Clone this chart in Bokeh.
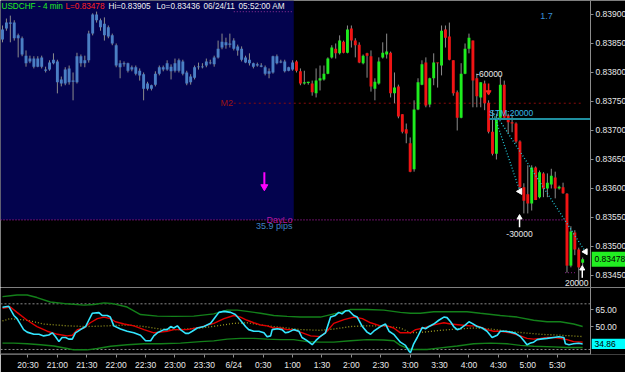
import numpy as np
from datetime import datetime, timedelta
from bokeh.plotting import figure
from bokeh.layouts import column
from bokeh.models import Range1d, FixedTicker, PrintfTickFormatter, Label, ColumnDataSource
from bokeh.embed import file_html
from bokeh.resources import INLINE
from bokeh.core.properties import value

FONT = "Liberation Sans"
FS = "8.5px"

# ---------------- data ----------------
symbol = "USDCHF - 4 min"
bar_minutes = 4
first_bar = datetime(2011, 6, 23, 20, 4)
session_end = datetime(2011, 6, 24, 1, 0)
stamp_date = "06/24/11"
stamp_time = "05:52:00 AM"

opens = [
    0.83857, 0.83876, 0.83886, 0.83886, 0.83859, 0.83859, 0.83829, 0.83819, 0.83824, 0.83810,
    0.83826, 0.83805, 0.83805, 0.83816, 0.83819, 0.83788, 0.83781, 0.83807, 0.83786, 0.83783,
    0.83828, 0.83816, 0.83821, 0.83867, 0.83900, 0.83890, 0.83884, 0.83878, 0.83864, 0.83847,
    0.83816, 0.83816, 0.83816, 0.83809, 0.83809, 0.83803, 0.83797, 0.83781, 0.83772, 0.83779,
    0.83798, 0.83805, 0.83805, 0.83810, 0.83803, 0.83803, 0.83819, 0.83800, 0.83783, 0.83791,
    0.83809, 0.83810, 0.83812, 0.83817, 0.83814, 0.83826, 0.83843, 0.83852, 0.83850, 0.83855,
    0.83845, 0.83841, 0.83826, 0.83822, 0.83816, 0.83814, 0.83812, 0.83809, 0.83802, 0.83800,
    0.83828, 0.83819, 0.83819, 0.83803, 0.83805,
    0.83819, 0.83802, 0.83781, 0.83782, 0.83781, 0.83764, 0.83786, 0.83788, 0.83798, 0.83826,
    0.83841, 0.83833, 0.83853, 0.83834, 0.83876, 0.83855, 0.83848, 0.83816, 0.83833, 0.83828,
    0.83772, 0.83781, 0.83826, 0.83831, 0.83834, 0.83764, 0.83776, 0.83728, 0.83702, 0.83678,
    0.83633, 0.83736, 0.83779, 0.83817, 0.83745, 0.83790, 0.83817, 0.83812, 0.83874, 0.83862,
    0.83821, 0.83766, 0.83722, 0.83798, 0.83841, 0.83855, 0.83790, 0.83757, 0.83781, 0.83748,
    0.83698, 0.83660, 0.83722, 0.83779, 0.83726, 0.83714, 0.83712, 0.83681, 0.83602, 0.83590,
    0.83574, 0.83636, 0.83585, 0.83626, 0.83600, 0.83607, 0.83619, 0.83600, 0.83602, 0.83591,
    0.83467, 0.83524, 0.83495, 0.83472]
highs = [
    0.83881, 0.83893, 0.83898, 0.83890, 0.83867, 0.83862, 0.83838, 0.83829, 0.83828, 0.83828,
    0.83829, 0.83810, 0.83821, 0.83833, 0.83822, 0.83793, 0.83809, 0.83812, 0.83800, 0.83834,
    0.83831, 0.83829, 0.83872, 0.83902, 0.83905, 0.83893, 0.83895, 0.83881, 0.83867, 0.83850,
    0.83821, 0.83819, 0.83817, 0.83812, 0.83812, 0.83807, 0.83800, 0.83784, 0.83779, 0.83802,
    0.83812, 0.83812, 0.83821, 0.83814, 0.83824, 0.83824, 0.83822, 0.83803, 0.83797, 0.83812,
    0.83817, 0.83816, 0.83824, 0.83822, 0.83829, 0.83855, 0.83867, 0.83860, 0.83867, 0.83859,
    0.83848, 0.83845, 0.83829, 0.83833, 0.83817, 0.83817, 0.83816, 0.83812, 0.83807, 0.83829,
    0.83831, 0.83822, 0.83822, 0.83810, 0.83821,
    0.83821, 0.83807, 0.83803, 0.83784, 0.83786, 0.83807, 0.83812, 0.83812, 0.83826, 0.83847,
    0.83850, 0.83864, 0.83855, 0.83881, 0.83881, 0.83859, 0.83852, 0.83831, 0.83834, 0.83838,
    0.83790, 0.83826, 0.83852, 0.83867, 0.83836, 0.83800, 0.83779, 0.83728, 0.83712, 0.83688,
    0.83752, 0.83790, 0.83821, 0.83826, 0.83791, 0.83833, 0.83817, 0.83881, 0.83881, 0.83886,
    0.83821, 0.83769, 0.83816, 0.83850, 0.83867, 0.83855, 0.83798, 0.83783, 0.83786, 0.83752,
    0.83735, 0.83729, 0.83795, 0.83786, 0.83729, 0.83726, 0.83714, 0.83683, 0.83609, 0.83640,
    0.83640, 0.83638, 0.83631, 0.83628, 0.83626, 0.83634, 0.83629, 0.83605, 0.83610, 0.83592,
    0.83535, 0.83528, 0.83498, 0.83481]
lows = [
    0.83852, 0.83872, 0.83852, 0.83855, 0.83826, 0.83828, 0.83810, 0.83816, 0.83807, 0.83809,
    0.83807, 0.83800, 0.83803, 0.83814, 0.83764, 0.83776, 0.83778, 0.83779, 0.83752, 0.83781,
    0.83810, 0.83809, 0.83817, 0.83864, 0.83886, 0.83872, 0.83855, 0.83859, 0.83847, 0.83809,
    0.83790, 0.83810, 0.83800, 0.83802, 0.83795, 0.83786, 0.83752, 0.83769, 0.83769, 0.83776,
    0.83795, 0.83802, 0.83803, 0.83788, 0.83800, 0.83800, 0.83795, 0.83778, 0.83779, 0.83788,
    0.83805, 0.83807, 0.83809, 0.83814, 0.83810, 0.83824, 0.83840, 0.83841, 0.83843, 0.83838,
    0.83829, 0.83819, 0.83816, 0.83812, 0.83807, 0.83810, 0.83809, 0.83795, 0.83790, 0.83798,
    0.83814, 0.83816, 0.83800, 0.83802, 0.83803,
    0.83800, 0.83778, 0.83779, 0.83779, 0.83760, 0.83757, 0.83769, 0.83786, 0.83797, 0.83824,
    0.83824, 0.83831, 0.83833, 0.83833, 0.83843, 0.83826, 0.83816, 0.83814, 0.83791, 0.83767,
    0.83752, 0.83779, 0.83824, 0.83824, 0.83757, 0.83747, 0.83721, 0.83695, 0.83678, 0.83628,
    0.83629, 0.83735, 0.83778, 0.83740, 0.83740, 0.83778, 0.83774, 0.83795, 0.83843, 0.83821,
    0.83760, 0.83700, 0.83721, 0.83797, 0.83833, 0.83740, 0.83740, 0.83740, 0.83735, 0.83695,
    0.83657, 0.83650, 0.83721, 0.83721, 0.83695, 0.83697, 0.83678, 0.83593, 0.83557, 0.83557,
    0.83562, 0.83580, 0.83583, 0.83585, 0.83585, 0.83600, 0.83583, 0.83598, 0.83591, 0.83455,
    0.83464, 0.83485, 0.83436, 0.83464]
closes = [
    0.83874, 0.83886, 0.83884, 0.83859, 0.83864, 0.83831, 0.83816, 0.83824, 0.83810, 0.83824,
    0.83810, 0.83803, 0.83817, 0.83822, 0.83783, 0.83781, 0.83805, 0.83783, 0.83784, 0.83828,
    0.83816, 0.83821, 0.83867, 0.83900, 0.83890, 0.83878, 0.83864, 0.83862, 0.83850, 0.83812,
    0.83809, 0.83814, 0.83803, 0.83805, 0.83798, 0.83795, 0.83772, 0.83772, 0.83778, 0.83798,
    0.83809, 0.83809, 0.83816, 0.83802, 0.83816, 0.83821, 0.83798, 0.83781, 0.83793, 0.83809,
    0.83810, 0.83809, 0.83819, 0.83816, 0.83826, 0.83841, 0.83853, 0.83847, 0.83848, 0.83841,
    0.83838, 0.83822, 0.83817, 0.83816, 0.83810, 0.83812, 0.83810, 0.83798, 0.83798, 0.83828,
    0.83816, 0.83817, 0.83802, 0.83809, 0.83817,
    0.83803, 0.83781, 0.83783, 0.83784, 0.83766, 0.83786, 0.83790, 0.83798, 0.83824, 0.83843,
    0.83833, 0.83855, 0.83834, 0.83874, 0.83855, 0.83847, 0.83817, 0.83829, 0.83829, 0.83776,
    0.83784, 0.83819, 0.83834, 0.83836, 0.83764, 0.83774, 0.83724, 0.83698, 0.83695, 0.83629,
    0.83736, 0.83783, 0.83814, 0.83743, 0.83790, 0.83817, 0.83816, 0.83872, 0.83860, 0.83822,
    0.83764, 0.83722, 0.83798, 0.83841, 0.83860, 0.83786, 0.83759, 0.83783, 0.83747, 0.83698,
    0.83660, 0.83722, 0.83779, 0.83722, 0.83714, 0.83712, 0.83681, 0.83602, 0.83579, 0.83574,
    0.83636, 0.83580, 0.83628, 0.83600, 0.83610, 0.83622, 0.83600, 0.83603, 0.83592, 0.83467,
    0.83526, 0.83495, 0.83464, 0.83478]

day_hi = 0.83905
day_lo = 0.83436
prev_day_lo = 0.83546
m2_level = 0.83747
m2_start_bar = 59.0
stm_level = 0.83720
stm_start_bar = 124.2
price_ticks = [0.8345, 0.8350, 0.8355, 0.8360, 0.8365, 0.8370, 0.8375, 0.8380, 0.8385, 0.8390]

tick_labels = ["20:30", "21:00", "21:30", "22:00", "22:30", "23:00", "23:30", "6/24", "0:30",
               "1:00", "1:30", "2:00", "2:30", "3:00", "3:30", "4:00", "4:30", "5:00", "5:30"]
first_tick = datetime(2011, 6, 23, 20, 30)
tick_step_min = 30

# trade annotations (bar position, price)
trade_text = ["-60000", "STM:20000", "-30000", "20000"]
trade_bar = [124.2, 124.2, 131.9, 149.5]
trade_price = [0.83797, 0.83731, 0.83522, 0.83437]
trade_colors = ["#e8e8e8", "#38b8e8", "#e8e8e8", "#e8e8e8"]
trade_align = ["center", "left", "center", "right"]
exit_bar = [132.0, 148.7]
exit_price = [0.83595, 0.83491]
trail_bar0 = [125.3, 126.0]
trail_price0 = [0.83729, 0.83726]
buy_arrow_bar = [131.9, 147.9]
buy_arrow_top = [0.83550, 0.83462]
buy_arrow_tail = [0.83533, 0.83446]
sell_arrow_bar = [124.0]
sell_arrow_top = [0.83781]
sell_arrow_head = [0.83766]
signal_arrow_bar = [66.8]
signal_arrow_top = [0.83628]
signal_arrow_head = [0.83603]
vol_text = "1.7"
vol_bar, vol_price = 138.8, 0.83898

# oscillator panel
rsi_bar = [0, 1.6, 2.9, 3.7, 5.4, 6.3, 8.0, 9.3, 10.5, 11.8, 12.7, 13.5, 14.4, 15.2, 16.1, 16.9,
           17.8, 18.6, 19.9, 21.2, 22.0, 22.9, 24.6, 25.4, 26.7, 27.5, 28.4, 30.1, 31.8, 33.5,
           35.2, 36.5, 37.8, 38.6, 39.5, 41.2, 42.0, 42.9, 43.7, 44.6, 45.4, 46.7, 47.5, 48.4,
           49.7, 51.4, 53.1, 54.3, 55.2, 56.5, 58.2, 59.4, 60.7, 62.0, 62.8, 64.1, 65.4, 66.7,
           67.5, 68.4, 68.8, 70.1, 71.3, 72.2, 73.0, 74.3, 75.6, 76.4, 77.7, 79.0, 79.9, 81.0,
           82.4, 83.7, 84.9, 85.8, 86.6, 87.5, 88.4, 89.6, 90.5, 91.8, 93.0, 93.9, 94.7, 96.4,
           97.7, 98.6, 99.8, 101.5, 102.8, 103.7, 104.1, 104.9, 105.8, 107.1, 107.9, 108.8, 110.0,
           111.3, 112.6, 113.4, 114.3, 115.1, 116.0, 116.8, 118.1, 119.0, 119.8, 121.1, 122.4,
           123.6, 124.9, 126.2, 127.0, 128.3, 129.6, 130.9, 132.1, 133.0, 133.8, 134.7, 135.5,
           136.4, 137.2, 138.9, 140.6, 141.9, 143.2, 143.6, 144.5, 145.7, 147.0, 148.0]
rsi_val = [67.0, 67.8, 59.8, 57.0, 47.4, 45.2, 43.3, 43.3, 41.9, 42.7, 44.6, 41.3, 36.9, 40.5, 40.5,
           39.1, 39.1, 44.6, 47.4, 50.1, 55.6, 61.7, 62.3, 59.8, 59.8, 58.4, 50.7, 47.9, 46.0, 44.6,
           42.5, 37.7, 37.7, 41.9, 44.6, 47.4, 47.4, 50.1, 48.8, 50.7, 47.4, 44.1, 44.1, 46.0, 48.8,
           50.1, 52.9, 58.4, 62.5, 63.4, 62.5, 60.6, 55.6, 50.1, 47.4, 46.0, 46.0, 44.6, 41.1, 41.9,
           47.4, 48.2, 47.4, 44.6, 45.2, 47.4, 46.0, 40.5, 37.7, 34.2, 37.7, 41.3, 44.6, 58.4, 59.8,
           62.5, 61.2, 63.9, 63.9, 59.8, 58.4, 50.1, 45.2, 43.3, 46.0, 50.1, 52.3, 46.0, 43.3, 36.4,
           33.6, 28.6, 27.3, 35.0, 40.5, 49.3, 48.2, 50.1, 52.3, 55.6, 58.4, 57.9, 54.3, 50.1, 47.4,
           48.2, 51.5, 54.3, 52.9, 50.1, 48.8, 46.0, 40.5, 42.5, 46.0, 46.0, 45.2, 44.1, 41.3, 37.7,
           34.2, 35.6, 36.4, 38.6, 39.1, 39.7, 40.5, 41.1, 40.5, 35.0, 34.2, 35.0, 35.5, 34.86]
sig_bar = [0, 2.0, 3.7, 6.3, 8.8, 11.4, 14.0, 16.5, 17.8, 19.1, 20.8, 22.4, 24.2, 25.9, 27.5, 28.8,
           31.0, 33.5, 36.1, 38.6, 40.3, 42.0, 43.7, 47.1, 50.5, 53.9, 56.5, 59.0, 60.7, 62.4, 64.1,
           65.8, 67.5, 69.2, 70.9, 72.6, 74.3, 76.0, 78.6, 81.1, 82.8, 84.5, 87.1, 89.6, 91.8, 93.9,
           96.4, 98.1, 99.8, 101.5, 104.1, 105.4, 107.5, 110.0, 112.6, 114.3, 116.8, 119.4, 121.1,
           123.6, 125.3, 127.0, 129.6, 132.1, 133.8, 135.5, 137.2, 138.9, 140.6, 142.3, 144.0,
           145.7, 148.0]
sig_val = [66.1, 67.2, 62.5, 55.6, 50.1, 46.0, 43.3, 41.9, 42.5, 47.4, 48.8, 53.4, 57.0, 58.4, 57.0,
           54.3, 52.3, 50.7, 47.4, 44.6, 45.2, 46.0, 47.4, 47.4, 49.6, 52.9, 57.0, 59.8, 58.4, 55.6,
           53.4, 51.5, 50.7, 48.8, 48.8, 47.4, 47.4, 45.2, 41.9, 41.3, 46.0, 52.9, 56.2, 58.4, 57.0,
           53.4, 50.7, 50.7, 48.8, 44.6, 44.6, 47.4, 48.8, 51.5, 53.4, 52.3, 51.5, 50.7, 50.7, 47.4,
           46.0, 46.0, 44.6, 41.9, 39.7, 39.1, 39.7, 40.5, 40.5, 39.7, 38.6, 36.9, 36.4]
upper_bar = [0, 2.0, 3.7, 6.3, 8.8, 12.2, 16.5, 20.8, 23.3, 25.9, 28.4, 31.8, 35.2, 39.5, 43.7, 48.8,
             53.9, 57.3, 59.9, 62.4, 65.8, 69.2, 72.6, 76.0, 81.1, 86.2, 88.8, 93.0, 97.3, 101.5,
             104.1, 106.6, 110.0, 114.3, 118.5, 121.9, 127.0, 131.3, 135.5, 138.9, 142.3, 145.7, 148.0]
upper_val = [76.3, 77.1, 77.7, 77.7, 75.5, 71.6, 70.0, 68.9, 69.4, 70.8, 70.0, 67.2, 60.6, 59.2, 59.0,
             59.2, 61.2, 64.5, 64.5, 63.4, 61.7, 59.8, 59.0, 58.4, 58.4, 62.5, 65.0, 65.0, 64.5, 62.5,
             61.7, 61.7, 63.1, 63.1, 63.1, 61.7, 59.8, 58.4, 55.6, 54.3, 54.3, 52.3, 50.1]
lower_bar = [0, 2.9, 6.3, 9.7, 13.1, 16.5, 18.2, 21.6, 24.2, 27.6, 31.8, 36.1, 40.3, 45.4, 50.5, 53.9,
             57.3, 60.7, 64.1, 67.5, 70.9, 74.3, 77.7, 81.0, 84.5, 88.8, 93.0, 97.3, 99.8, 101.5,
             104.1, 108.3, 111.7, 116.0, 120.2, 124.5, 128.7, 132.1, 135.5, 140.6, 144.0, 148.0]
lower_val = [35.6, 35.6, 35.0, 34.2, 33.1, 30.9, 29.7, 29.7, 30.9, 32.8, 34.2, 35.0, 35.0, 35.6, 36.9,
             37.5, 39.1, 39.7, 39.7, 39.1, 38.6, 38.6, 36.9, 36.4, 36.4, 37.7, 38.6, 38.3, 37.7, 33.6,
             30.0, 30.0, 31.4, 33.1, 35.0, 35.6, 35.0, 33.6, 32.8, 32.3, 31.7, 31.7]
mid_bar = [0, 2.0, 6.3, 10.5, 16.5, 21.6, 26.7, 31.8, 36.1, 40.3, 44.6, 50.5, 54.8, 59.0, 62.4, 65.8,
           69.2, 72.6, 76.0, 81.0, 84.5, 88.8, 93.0, 97.3, 101.5, 104.1, 107.5, 111.7, 116.0, 120.2,
           124.5, 128.7, 133.0, 137.2, 142.3, 148.0]
mid_val = [55.1, 57.0, 55.6, 52.3, 50.7, 50.1, 50.7, 51.5, 50.1, 47.9, 47.4, 48.8, 50.7, 52.9, 53.4,
           51.5, 50.1, 48.8, 47.4, 46.8, 47.9, 50.1, 50.7, 50.7, 48.8, 44.6, 45.2, 46.8, 47.9, 48.8,
           47.9, 46.0, 44.6, 43.3, 42.5, 41.3]
osc_last = 34.86
osc_levels = [30, 70]
osc_ticks = [50, 65]

# ---------------- styling ----------------
BG = "black"
SESSION_BG = "#03034e"
BLUE = "#4b7fc4"
GREEN = "#1eec1e"
RED = "#f01414"
WICK = "#8c8c8c"
AXIS = "#8c8c8c"
LABEL = "#e8e8e8"

W, H1, H2 = 625, 287, 85
AXIS_PX = 590            # pixel column of the price axis
left_bar = -0.51
axis_bar = 150.0         # bar position where the price axis sits
px_per_bar = AXIS_PX / (axis_bar - left_bar)


def bx(b):
    return np.asarray(b, dtype=float) * bar_minutes


O = np.array(opens)
Hh = np.array(highs)
Ll = np.array(lows)
C = np.array(closes)
n = len(O)
bars = np.arange(n)
times = [first_bar + timedelta(minutes=bar_minutes * int(i)) for i in bars]
in_session = np.array([t <= session_end for t in times])
last_session_bar = bars[in_session][-1]
colors = np.where(in_session, BLUE, np.where(C >= O, GREEN, RED))
body_top = np.maximum(O, C)
body_bot = np.minimum(O, C)
min_body = 1.2e-5
thin = (body_top - body_bot) < min_body
mid = (body_top + body_bot) / 2
body_top = np.where(thin, mid + min_body / 2, body_top)
body_bot = np.where(thin, mid - min_body / 2, body_bot)

src = ColumnDataSource(dict(x=bx(bars), top=body_top, bottom=body_bot, high=Hh, low=Ll, color=colors))

x_axis_pos = float(bx(axis_bar))
x_range = Range1d(float(bx(left_bar)), float(bx(left_bar + W / px_per_bar)))


def style_axis(ax):
    ax.axis_line_color = AXIS
    ax.major_tick_line_color = AXIS
    ax.major_tick_out = 3
    ax.major_tick_in = 0
    ax.minor_tick_line_color = None
    ax.major_label_text_color = LABEL
    ax.major_label_text_font = FONT
    ax.major_label_text_font_size = FS
    ax.major_label_standoff = 2


p1 = figure(width=W, height=H1, x_range=x_range, y_range=Range1d(0.834293, 0.839241),
            output_backend="svg", toolbar_location=None, x_axis_location=None,
            y_axis_location="right", min_border_left=0, min_border_right=0,
            min_border_top=0, min_border_bottom=0, background_fill_color=BG,
            border_fill_color=BG, outline_line_color=None)
p1.grid.visible = False
p1.yaxis.ticker = FixedTicker(ticks=price_ticks)
p1.yaxis.formatter = PrintfTickFormatter(format="%.5f")
p1.yaxis.fixed_location = x_axis_pos
style_axis(p1.yaxis[0])

# session shading (top of chart down to the previous day low)
p1.quad(left=[x_range.start], right=[float(bx(last_session_bar + 0.3))], bottom=[prev_day_lo],
        top=[p1.y_range.end], fill_color=SESSION_BG, line_color=None)

# level lines
brk = int(np.argmax(Ll < prev_day_lo))
p1.segment(x0=[x_range.start], x1=[float(bx(brk - 0.5))], y0=[prev_day_lo], y1=[prev_day_lo],
           line_color="#a0189c", line_dash="1 2", line_width=1.3)
p1.segment(x0=[float(bx(brk - 0.5))], x1=[float(bx(brk + 2.5))], y0=[Ll[brk]], y1=[Ll[brk]],
           line_color="#6a1a6a", line_dash="1 2", line_width=1.3)
p1.segment(x0=[float(bx(m2_start_bar))], x1=[float(bx(last_session_bar + 0.3))], y0=[day_hi],
           y1=[day_hi], line_color="#7a2a8a", line_dash="1 2", line_width=1.2)
p1.segment(x0=[float(bx(m2_start_bar))], x1=[float(bx(147.5))], y0=[m2_level], y1=[m2_level],
           line_color="#8a0c0c", line_dash="2 3", line_width=1)

# candles
p1.segment(x0="x", y0="high", x1="x", y1="low", source=src, line_color=WICK, line_width=1)
p1.vbar(x="x", width=bar_minutes * 0.74, top="top", bottom="bottom", fill_color="color",
        line_color=None, source=src)

# trade lines
p1.segment(x0=[float(bx(stm_start_bar))], x1=[x_axis_pos], y0=[stm_level], y1=[stm_level],
           line_color="#1f8fa0", line_width=2)
p1.segment(x0=bx(trail_bar0), y0=trail_price0, x1=bx(exit_bar), y1=exit_price,
           line_color="#22c8d8", line_dash="1 2", line_width=1.3)
p1.scatter(x=bx(exit_bar), y=exit_price, marker="triangle", angle=np.pi / 2, size=6,
           fill_color="white", line_color="white")
p1.segment(x0=bx(buy_arrow_bar), y0=buy_arrow_tail, x1=bx(buy_arrow_bar), y1=buy_arrow_top,
           line_color="white", line_width=1.5)
p1.scatter(x=bx(buy_arrow_bar), y=buy_arrow_top, marker="triangle", size=5,
           fill_color="white", line_color="white")
p1.segment(x0=bx(sell_arrow_bar), y0=sell_arrow_top, x1=bx(sell_arrow_bar), y1=sell_arrow_head,
           line_color="#ff2020", line_width=1.5)
p1.scatter(x=bx(sell_arrow_bar), y=sell_arrow_head, marker="inverted_triangle", size=5,
           fill_color="#ff2020", line_color="#ff2020")
p1.segment(x0=bx(signal_arrow_bar), y0=signal_arrow_top, x1=bx(signal_arrow_bar),
           y1=signal_arrow_head, line_color="#ff00ff", line_width=2)
p1.scatter(x=bx(signal_arrow_bar), y=signal_arrow_head, marker="inverted_triangle", size=7,
           fill_color="#ff00ff", line_color="#ff00ff")


def data_label(fig, x, y, text, color, align="center", size=FS):
    fig.add_layout(Label(x=float(x), y=float(y), text=text, text_color=color, text_align=align,
                         text_baseline="middle", text_font=FONT, text_font_size=size))


data_label(p1, bx(m2_start_bar - 0.2), m2_level, "M2", "#9b1414", "right", "9px")
data_label(p1, bx(last_session_bar), prev_day_lo, "DayLo", "#b4189e", "right", "9px")
data_label(p1, bx(last_session_bar), prev_day_lo - 0.00011,
           f"{(day_hi - prev_day_lo) * 1e4:.1f} pips", "#3f80c4", "right", "9px")
data_label(p1, bx(vol_bar), vol_price, vol_text, "#3a8fd8", "center", "9px")
for t, b, pr, c, a in zip(trade_text, trade_bar, trade_price, trade_colors, trade_align):
    data_label(p1, bx(b), pr, t, c, a)


def axis_tag(fig, level, text, fill, half_h_px):
    """price tag drawn in the axis strip, right of the fixed axis"""
    yr = fig.y_range
    frame_h = fig.height - (fig.min_border_bottom or 0)
    half = half_h_px * (yr.end - yr.start) / frame_h
    fig.quad(left=[x_axis_pos + 1.2 / px_per_bar * bar_minutes], right=[x_range.end],
             bottom=[level - half], top=[level + half], fill_color=fill, line_color=None)
    fig.text(x=[x_axis_pos + 4.0 / px_per_bar * bar_minutes], y=[level], text=[text],
             text_color="black", text_baseline="middle", text_align="left",
             text_font=value(FONT), text_font_size=value(FS))


axis_tag(p1, float(C[-1]), f"{C[-1]:.5f}", "#22ee22", 7.5)

# header
header = [(symbol, "#22ee22", 1), (f"L={C[-1]:.5f}", "#ff2222", 65),
          (f"Hi={day_hi:.5f}", "#f0f0f0", 108), (f"Lo={day_lo:.5f}", "#f0f0f0", 156),
          (stamp_date, "#f0f0f0", 203), (stamp_time, "#f0f0f0", 238)]
for txt, col, xs in header:
    p1.add_layout(Label(x=xs, y=H1 - 6, x_units="screen", y_units="screen", text=txt,
                        text_color=col, text_baseline="middle", text_font=FONT,
                        text_font_size="8.2px"))

# ---------------- oscillator panel ----------------
p2 = figure(width=W, height=H2, x_range=x_range, y_range=Range1d(25.6, 84.3),
            output_backend="svg", toolbar_location=None, y_axis_location="right",
            min_border_left=0, min_border_right=0, min_border_top=0, min_border_bottom=14,
            background_fill_color=BG, border_fill_color=BG, outline_line_color=None)
p2.grid.visible = False
p2.yaxis.ticker = FixedTicker(ticks=osc_ticks)
p2.yaxis.formatter = PrintfTickFormatter(format="%.2f")
p2.yaxis.fixed_location = x_axis_pos
style_axis(p2.yaxis[0])

tick_pos = [int(round((first_tick + timedelta(minutes=tick_step_min * k) - first_bar).total_seconds() / 60))
            for k in range(len(tick_labels))]
p2.xaxis.ticker = FixedTicker(ticks=tick_pos)
p2.xaxis.major_label_overrides = {tp: lab for tp, lab in zip(tick_pos, tick_labels)}
style_axis(p2.xaxis[0])
p2.xaxis.axis_line_color = None
p2.segment(x0=[x_range.start], x1=[x_axis_pos], y0=[p2.y_range.start], y1=[p2.y_range.start],
           line_color=AXIS, line_width=2)

p2.segment(x0=[x_range.start] * len(osc_levels), x1=[x_axis_pos] * len(osc_levels),
           y0=osc_levels, y1=osc_levels, line_color="#8a8a8a", line_dash="2 2", line_width=1)

p2.line(bx(upper_bar), upper_val, line_color="#13801a", line_width=1.4)
p2.line(bx(lower_bar), lower_val, line_color="#13801a", line_width=1.4)
p2.line(bx(mid_bar), mid_val, line_color="#9a9a20", line_dash="1 2", line_width=1.3)
p2.line(bx(sig_bar), sig_val, line_color="#e00000", line_width=1.4)
p2.line(bx(rsi_bar), rsi_val, line_color="#33e6ff", line_width=1.6)

axis_tag(p2, osc_last, f"{osc_last:.2f}", "#00ffff", 5.5)

layout = column(p1, p2, spacing=0)
open("out.html", "w").write(file_html(layout, INLINE))
